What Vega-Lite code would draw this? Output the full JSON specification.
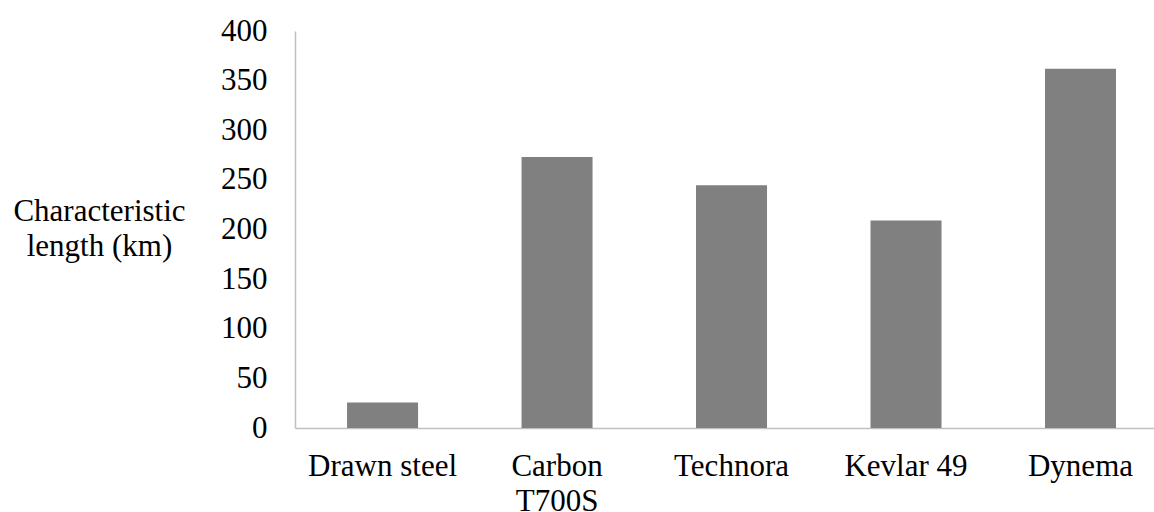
{
  "$schema": "https://vega.github.io/schema/vega-lite/v6.json",
  "width": 859,
  "height": 397,
  "autosize": {"type": "none"},
  "padding": {"left": 295, "top": 31, "right": 0, "bottom": 84},
  "background": "white",
  "config": {
    "view": {"stroke": null},
    "font": "serif"
  },
  "data": {
    "values": [
      {"material": "Drawn steel", "length": 25.6},
      {"material": "Carbon T700S", "length": 273},
      {"material": "Technora", "length": 244.7},
      {"material": "Kevlar 49", "length": 209},
      {"material": "Dynema", "length": 362}
    ]
  },
  "mark": {"type": "bar", "color": "#808080"},
  "encoding": {
    "x": {
      "field": "material",
      "type": "nominal",
      "sort": null,
      "scale": {"paddingInner": 0.593, "paddingOuter": 0.258, "align": 0.578},
      "axis": {
        "title": null,
        "labelAngle": 0,
        "labelFont": "serif",
        "labelFontSize": 31,
        "labelColor": "black",
        "labelBaseline": "top",
        "labelPadding": 23,
        "labelLineHeight": 35,
        "labelExpr": "datum.value == 'Carbon T700S' ? ['Carbon', 'T700S'] : datum.value",
        "ticks": false,
        "tickSize": 0,
        "domainColor": "#c0c0c0",
        "domainWidth": 1.5,
        "grid": false
      }
    },
    "y": {
      "field": "length",
      "type": "quantitative",
      "scale": {"domain": [0, 400], "nice": false},
      "axis": {
        "values": [0, 50, 100, 150, 200, 250, 300, 350, 400],
        "title": ["Characteristic", "length (km)"],
        "titleAngle": 0,
        "titleFont": "serif",
        "titleFontSize": 31,
        "titleFontWeight": "normal",
        "titleColor": "black",
        "titleAlign": "center",
        "titleBaseline": "alphabetic",
        "titleLineHeight": 35,
        "titleX": -196,
        "titleY": 189,
        "labelFont": "serif",
        "labelFontSize": 31,
        "labelColor": "black",
        "labelPadding": 28,
        "ticks": false,
        "tickSize": 0,
        "domainColor": "#c0c0c0",
        "domainWidth": 1.5,
        "grid": false
      }
    }
  }
}
